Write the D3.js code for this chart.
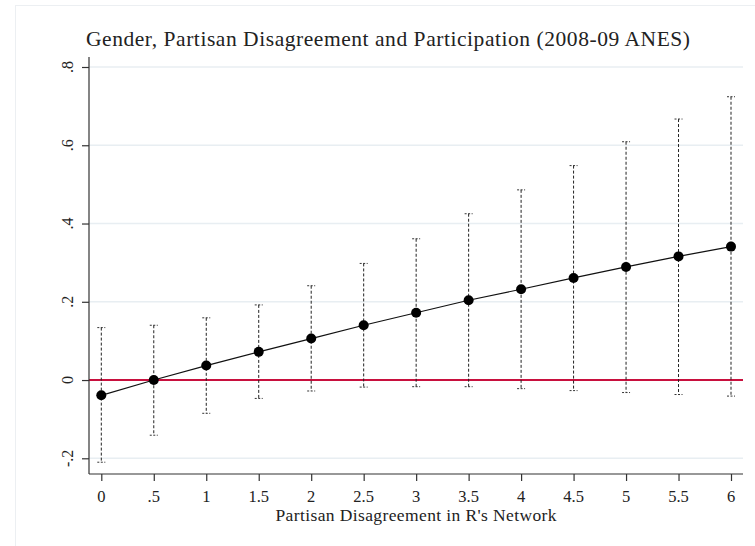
<!DOCTYPE html>
<html>
<head>
<meta charset="utf-8">
<script src="https://cdn.jsdelivr.net/npm/d3@7"></script>
<style>
  body { margin: 0; background: #fff; }
  svg { display: block; }
  text { font-family: "Liberation Serif", "DejaVu Serif", serif; fill: #222; }
</style>
</head>
<body>
<div id="chart"></div>
<script>
/************************************************************
 * 1) Data (read off the marginal-effect plot)
 ************************************************************/
const disagreement = [0, 0.5, 1, 1.5, 2, 2.5, 3, 3.5, 4, 4.5, 5, 5.5, 6];
const effect = [-0.039, 0, 0.037, 0.072, 0.106, 0.140, 0.172, 0.204, 0.232, 0.261, 0.289, 0.316, 0.341];
const upperCI = [0.134, 0.140, 0.159, 0.192, 0.241, 0.298, 0.361, 0.425, 0.486, 0.548, 0.609, 0.667, 0.724];
const lowerCI = [-0.210, -0.141, -0.085, -0.047, -0.028, -0.018, -0.017, -0.017, -0.022, -0.027, -0.032, -0.037, -0.041];

const xTicks = [0, 0.5, 1, 1.5, 2, 2.5, 3, 3.5, 4, 4.5, 5, 5.5, 6];
const xTickLabels = ['0', '.5', '1', '1.5', '2', '2.5', '3', '3.5', '4', '4.5', '5', '5.5', '6'];
const yTicks = [-0.2, 0, 0.2, 0.4, 0.6, 0.8];
const yTickLabels = ['-.2', '0', '.2', '.4', '.6', '.8'];

const title = 'Gender, Partisan Disagreement and Participation (2008-09 ANES)';
const xTitle = "Partisan Disagreement in R's Network";

/************************************************************
 * 2) Layout
 ************************************************************/
const W = 755, H = 546;
const plot = { left: 89, right: 743, top: 57, bottom: 474 };

const x = d3.scaleLinear().domain([0, 6]).range([101.3, 731]);
const y = d3.scaleLinear().domain([-0.2, 0.8]).range([458.3, 67]);

const svg = d3.select('#chart')
  .append('svg')
  .attr('width', W)
  .attr('height', H);

// faint outer frame of the graph region
svg.append('rect')
  .attr('x', 15.5)
  .attr('y', 5.5)
  .attr('width', 800)
  .attr('height', 600)
  .attr('fill', 'none')
  .attr('stroke', '#eceff2')
  .attr('stroke-width', 1);

/************************************************************
 * 3) Gridlines + zero reference line
 ************************************************************/
svg.append('g')
  .selectAll('line')
  .data(yTicks.filter(d => d !== 0))
  .join('line')
  .attr('x1', plot.left)
  .attr('x2', plot.right)
  .attr('y1', d => y(d))
  .attr('y2', d => y(d))
  .attr('stroke', '#e8eef2')
  .attr('stroke-width', 1.5);

svg.append('line')
  .attr('x1', plot.left)
  .attr('x2', plot.right)
  .attr('y1', y(0))
  .attr('y2', y(0))
  .attr('stroke', '#c8103e')
  .attr('stroke-width', 2);

/************************************************************
 * 4) Axes
 ************************************************************/
const yAxis = svg.append('g')
  .attr('transform', `translate(${plot.left},0)`)
  .call(d3.axisLeft(y).tickValues(yTicks).tickSize(7).tickFormat(''));
yAxis.select('.domain').remove();
yAxis.selectAll('line').attr('stroke', '#333').attr('stroke-width', 1.2);

const xAxis = svg.append('g')
  .attr('transform', `translate(0,${plot.bottom})`)
  .call(d3.axisBottom(x).tickValues(xTicks).tickSize(7).tickFormat(''));
xAxis.select('.domain').remove();
xAxis.selectAll('line').attr('stroke', '#333').attr('stroke-width', 1.2);

// axis lines span the whole plot region
svg.append('line')
  .attr('x1', plot.left).attr('x2', plot.left)
  .attr('y1', plot.top).attr('y2', plot.bottom)
  .attr('stroke', '#333').attr('stroke-width', 1.2);
svg.append('line')
  .attr('x1', plot.left).attr('x2', plot.right)
  .attr('y1', plot.bottom).attr('y2', plot.bottom)
  .attr('stroke', '#333').attr('stroke-width', 1.2);

// y tick labels are rotated (Stata style)
svg.append('g')
  .selectAll('text')
  .data(yTicks)
  .join('text')
  .attr('transform', d => `translate(73,${y(d)}) rotate(-90)`)
  .attr('text-anchor', 'middle')
  .attr('font-size', '16px')
  .text((d, i) => yTickLabels[i]);

svg.append('g')
  .selectAll('text')
  .data(xTicks)
  .join('text')
  .attr('x', d => x(d))
  .attr('y', 502)
  .attr('text-anchor', 'middle')
  .attr('font-size', '16.5px')
  .text((d, i) => xTickLabels[i]);

// Garamond-ish widths: stretch spacing to the reference extents
svg.append('text')
  .attr('x', 416)
  .attr('y', 521)
  .attr('text-anchor', 'middle')
  .attr('font-size', '17.5px')
  .attr('textLength', 281)
  .attr('lengthAdjust', 'spacing')
  .text(xTitle);

svg.append('text')
  .attr('x', 388)
  .attr('y', 46)
  .attr('text-anchor', 'middle')
  .attr('font-size', '21.5px')
  .attr('textLength', 604)
  .attr('lengthAdjust', 'spacing')
  .text(title);

/************************************************************
 * 5) Confidence intervals (dashed spikes with small caps)
 ************************************************************/
const rows = disagreement.map((d, i) => ({ x: d, est: effect[i], lo: lowerCI[i], hi: upperCI[i] }));

const ci = svg.append('g');
ci.selectAll('.spike')
  .data(rows)
  .join('line')
  .attr('class', 'spike')
  .attr('x1', d => x(d.x))
  .attr('x2', d => x(d.x))
  .attr('y1', d => y(d.hi))
  .attr('y2', d => y(d.lo))
  .attr('stroke', '#222')
  .attr('stroke-width', 1)
  .attr('stroke-dasharray', '3,2');

['hi', 'lo'].forEach(k => {
  ci.selectAll('.cap-' + k)
    .data(rows)
    .join('line')
    .attr('class', 'cap-' + k)
    .attr('x1', d => x(d.x) - 4)
    .attr('x2', d => x(d.x) + 4)
    .attr('y1', d => y(d[k]))
    .attr('y2', d => y(d[k]))
    .attr('stroke', '#333')
    .attr('stroke-width', 1)
    .attr('stroke-dasharray', '2,1.5');
});

/************************************************************
 * 6) Estimate line + markers
 ************************************************************/
svg.append('path')
  .datum(rows)
  .attr('fill', 'none')
  .attr('stroke', '#111')
  .attr('stroke-width', 1.2)
  .attr('d', d3.line().x(d => x(d.x)).y(d => y(d.est)));

svg.append('g')
  .selectAll('circle')
  .data(rows)
  .join('circle')
  .attr('cx', d => x(d.x))
  .attr('cy', d => y(d.est))
  .attr('r', 5)
  .attr('fill', '#000');
</script>
</body>
</html>
